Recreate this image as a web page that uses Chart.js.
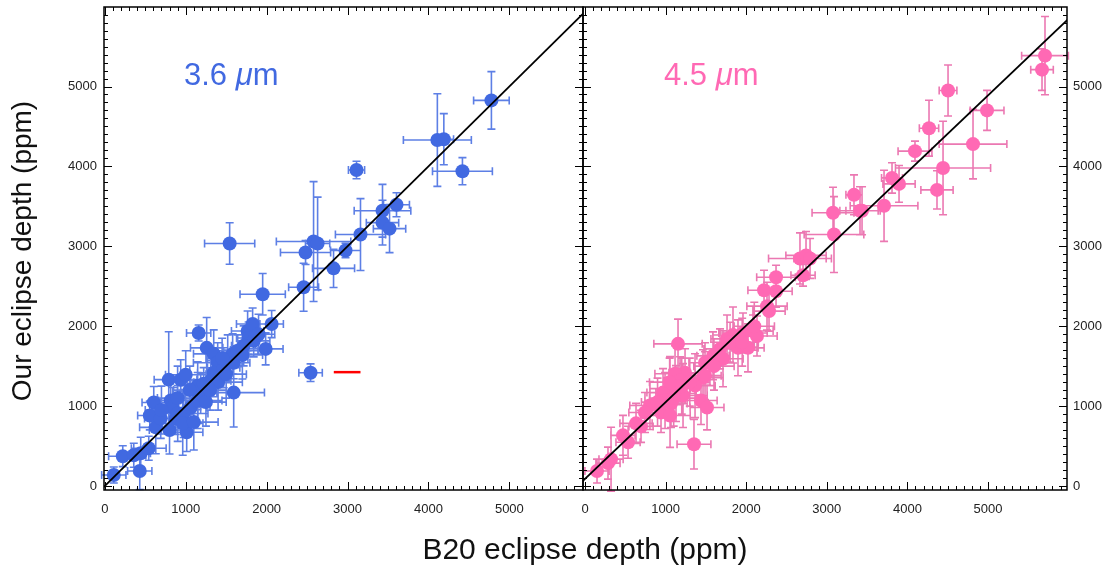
<!DOCTYPE html>
<html>
<head>
<meta charset="utf-8">
<script src="https://cdn.jsdelivr.net/npm/chart.js@4.4.0/dist/chart.umd.min.js"></script>
<style>
  body { margin: 0; background: #fff; font-family: "Liberation Sans", Arial, sans-serif; }
  #wrap { position: relative; width: 1114px; height: 566px; overflow: hidden; }
  canvas { position: absolute; left: 0; top: 0; }
  .lbl { position: absolute; white-space: nowrap; line-height: 26px; color: #111; }
</style>
</head>
<body>
<div id="wrap">
  <canvas id="chart36" width="1114" height="566"></canvas>
  <canvas id="chart45" width="1114" height="566"></canvas>
  <div class="lbl" style="left:184px;top:62px;font-size:31px;color:#4169E1">3.6 <i>μ</i>m</div>
  <div class="lbl" style="left:664px;top:62px;font-size:31px;color:#FF69B4">4.5 <i>μ</i>m</div>
  <div class="lbl" style="left:335px;top:536px;width:500px;text-align:center;font-size:30px">B20 eclipse depth (ppm)</div>
  <div class="lbl" style="left:-178px;top:238px;width:400px;text-align:center;font-size:28px;transform:rotate(-90deg)">Our eclipse depth (ppm)</div>
</div>
<script>
// tick values shared by both panels
var tickVals = [0, 1000, 2000, 3000, 4000, 5000];
var tickLabels = ['0', '1000', '2000', '3000', '4000', '5000'];

// 3.6 micron: B20 depth, our depth, errors (ppm)
var b20_36 = [4778, 4110, 4190, 4420, 3111, 3605, 3432, 3432, 3519, 3160, 2975, 2827, 2580, 2630, 2481, 2457, 1951, 1543, 2062, 1988, 2543, 1593,
  111, 222, 432, 358, 444, 543, 630, 605, 556, 691, 790, 938, 1000, 815, 840, 901, 877, 975, 1012, 963, 1062, 1148, 1185, 1148,
  1160, 1259, 1346, 1395, 1346, 1309, 1222, 1469, 1519, 1580, 1593, 1642, 1765, 1827, 1778, 1840, 1716, 1700, 1050, 900, 700, 1100,
  1250, 1400, 1500, 1900, 800, 1300, 1450];
var our_36 = [4826, 4330, 4340, 3940, 3955, 3520, 3445, 3296, 3221, 3147, 2948, 2724, 3060, 3035, 2923, 2488, 2400, 3035, 2027, 1716, 1418, 1169,
  137, 373, 187, 385, 410, 473, 734, 1045, 883, 846, 1331, 1331, 1393, 1070, 983, 908, 846, 908, 672, 784, 983, 1070, 1157, 1256,
  1915, 1729, 1654, 1542, 1418, 1318, 1281, 1480, 1592, 1654, 1542, 1692, 1940, 2027, 1853, 1816, 1754, 1640, 1200, 1100, 950, 800,
  1050, 1300, 1400, 1900, 700, 1200, 1600];
var b20err_36 = [220, 420, 120, 370, 100, 160, 350, 200, 200, 310, 185, 260, 460, 150, 310, 185, 280, 310, 145, 215, 145, 380,
  150, 175, 150, 150, 120, 215, 200, 145, 150, 200, 180, 200, 250, 150, 220, 250, 150, 300, 200, 250, 200, 300, 200, 250,
  150, 200, 250, 300, 200, 250, 200, 200, 250, 200, 200, 250, 200, 200, 150, 200, 150, 250, 200, 250, 200, 300,
  250, 300, 250, 200, 250, 200, 200];
var ourerr_36 = [360, 580, 320, 170, 110, 150, 330, 280, 300, 450, 90, 240, 750, 580, 150, 300, 260, 260, 170, 200, 110, 430,
  100, 130, 230, 150, 200, 150, 330, 200, 180, 250, 600, 250, 300, 300, 250, 350, 200, 300, 240, 400, 250, 350, 250, 300,
  100, 380, 300, 250, 300, 250, 200, 250, 300, 250, 200, 200, 250, 200, 200, 200, 250, 300, 300, 400, 300, 350,
  300, 350, 300, 250, 300, 250, 250];

// 4.5 micron
var b20_45 = [5707, 5670, 4504, 4988, 4268, 4814, 4094, 4442, 3809, 3896, 4367, 3710, 3437, 3337, 3077, 3089, 2667, 2742, 2792, 2705,
  2370, 2221, 2370, 2258, 2283, 2084, 1960, 1836, 1762, 1898, 2022, 2134, 1675, 1588, 1712, 1489, 1464, 1154, 1489, 1365,
  1241, 1117, 1179, 1055, 968, 1129, 1216, 993, 1067, 943, 1055, 1439, 1514, 1352, 806, 744, 633, 695, 471, 534,
  323, 285, 149, 1300, 1200, 1050, 900, 1600, 1800, 1950, 2100, 1100, 3412];
var our_45 = [5386, 5211, 4950, 4701, 4478, 4279, 4191, 3980, 3856, 3781, 3706, 3507, 3445, 3644, 3420, 3147, 2848, 2886, 2848, 2637,
  2612, 2450, 2438, 2251, 2189, 1940, 1915, 1890, 1841, 1729, 1729, 1878, 1716, 1629, 1592, 1542, 1356, 1779, 1381, 1256,
  1418, 1405, 1318, 1219, 1169, 1157, 1132, 1070, 1032, 920, 883, 1070, 983, 522, 1007, 920, 784, 746, 634, 547,
  336, 286, 187, 1300, 1250, 1300, 1050, 1500, 1800, 1800, 2000, 1100, 3445];
var b20err_45 = [290, 140, 110, 210, 120, 420, 210, 590, 130, 200, 200, 420, 200, 100, 260, 370, 390, 250, 200, 150,
  240, 200, 200, 250, 200, 250, 300, 250, 200, 250, 200, 250, 200, 200, 250, 200, 250, 300, 200, 250,
  200, 250, 200, 250, 200, 250, 300, 250, 200, 150, 250, 200, 210, 210, 250, 200, 200, 150, 150, 150,
  150, 150, 150, 250, 200, 250, 200, 250, 200, 200, 250, 300, 250];
var ourerr_45 = [490, 260, 320, 250, 350, 435, 125, 585, 190, 230, 240, 445, 300, 250, 320, 475, 320, 300, 250, 135,
  150, 250, 200, 300, 250, 200, 250, 350, 300, 350, 300, 250, 250, 300, 350, 250, 350, 310, 300, 400,
  300, 350, 300, 400, 300, 350, 400, 350, 300, 250, 400, 300, 280, 310, 300, 250, 250, 200, 250, 200,
  400, 200, 150, 300, 350, 300, 300, 300, 250, 300, 300, 350, 300];

// one-to-one reference lines
var diagX_36 = [-100, 6100];
var diagY_36 = [-100, 6100];
var diagX_45 = [-100, 6100];
var diagY_45 = [-5, 5945];

// short red segment in the 3.6 panel
var redX = [2830, 3160];
var redY = [1425, 1425];

function toPoints(xs, ys) {
    var pts = [];
    for (var i = 0; i < xs.length; i++) {
        pts.push({x: xs[i], y: ys[i]});
    }
    return pts;
}

var errorBars = {
    id: 'errorBars',
    beforeDatasetsDraw: function(chart) {
        var ctx = chart.ctx;
        var xs = chart.scales.x, ys = chart.scales.y;
        chart.data.datasets.forEach(function(ds) {
            if (!ds.xErr) return;
            ctx.save();
            ctx.strokeStyle = ds.errColor;
            ctx.lineWidth = 1.6;
            ctx.beginPath();
            ds.data.forEach(function(p, i) {
                var px = xs.getPixelForValue(p.x), py = ys.getPixelForValue(p.y);
                var x0 = xs.getPixelForValue(p.x - ds.xErr[i]), x1 = xs.getPixelForValue(p.x + ds.xErr[i]);
                var y0 = ys.getPixelForValue(p.y - ds.yErr[i]), y1 = ys.getPixelForValue(p.y + ds.yErr[i]);
                ctx.moveTo(x0, py); ctx.lineTo(x1, py);
                ctx.moveTo(px, y0); ctx.lineTo(px, y1);
                ctx.moveTo(x0, py - 4); ctx.lineTo(x0, py + 4);
                ctx.moveTo(x1, py - 4); ctx.lineTo(x1, py + 4);
                ctx.moveTo(px - 4, y0); ctx.lineTo(px + 4, y0);
                ctx.moveTo(px - 4, y1); ctx.lineTo(px + 4, y1);
            });
            ctx.stroke();
            ctx.restore();
        });
    }
};

// box + inward ticks on all four sides
var frameTicks = {
    id: 'frameTicks',
    afterDraw: function(chart) {
        var a = chart.chartArea, ctx = chart.ctx;
        var xs = chart.scales.x, ys = chart.scales.y;
        ctx.save();
        ctx.strokeStyle = '#000';
        ctx.lineWidth = 1;
        ctx.beginPath();
        for (var v = 0; v <= 6000; v += 100) {
            var len = v % 1000 === 0 ? 8 : 4;
            var px = Math.round(xs.getPixelForValue(v)) + 0.5;
            if (px > a.left + 1 && px < a.right - 1) {
                ctx.moveTo(px, a.bottom); ctx.lineTo(px, a.bottom - len);
                ctx.moveTo(px, a.top); ctx.lineTo(px, a.top + len);
            }
            var py = Math.round(ys.getPixelForValue(v)) + 0.5;
            if (py > a.top + 1 && py < a.bottom - 1) {
                ctx.moveTo(a.left, py); ctx.lineTo(a.left + len, py);
                ctx.moveTo(a.right, py); ctx.lineTo(a.right - len, py);
            }
        }
        ctx.stroke();
        ctx.lineWidth = 1.5;
        ctx.strokeRect(a.left, a.top, a.right - a.left, a.bottom - a.top);
        ctx.restore();
    }
};

function fixTicks(scale) {
    scale.ticks = tickVals.map(function(v) { return {value: v}; });
}

function makeAxis(min, max, pos, size, pad) {
    return {
        type: 'linear',
        position: pos,
        min: min,
        max: max,
        grid: {display: false, drawTicks: false},
        border: {display: false},
        afterBuildTicks: fixTicks,
        afterFit: function(s) {
            if (pos === 'bottom') s.height = size; else s.width = size;
            s.paddingTop = 0; s.paddingBottom = 0; s.paddingLeft = 0; s.paddingRight = 0;
        },
        ticks: {
            padding: pad,
            color: '#222',
            font: {family: '"Liberation Sans", Arial, sans-serif', size: 13},
            callback: function(v, i) { return tickLabels[i]; }
        }
    };
}

function makeChart(id, b20, our, b20err, ourerr, color, errColor, xMin, xMax, diagX, diagY, yPos, yWidth, yPad, padding, extra) {
    var datasets = [
        {
            type: 'line',
            data: toPoints(diagX, diagY),
            borderColor: '#000',
            borderWidth: 1.8,
            pointRadius: 0,
            order: 0
        }
    ];
    if (extra) datasets.push(extra);
    datasets.push({
        type: 'scatter',
        data: toPoints(b20, our),
        xErr: b20err,
        yErr: ourerr,
        errColor: errColor,
        backgroundColor: color,
        borderWidth: 0,
        pointRadius: 7,
        order: 1
    });
    return new Chart(document.getElementById(id), {
        type: 'scatter',
        data: {datasets: datasets},
        options: {
            responsive: false,
            animation: false,
            layout: {padding: padding},
            plugins: {legend: {display: false}, tooltip: {enabled: false}},
            scales: {
                x: makeAxis(xMin, xMax, 'bottom', 30, 12),
                y: makeAxis(-50, 5995, yPos, yWidth, yPad)
            }
        },
        plugins: [errorBars, frameTicks]
    });
}

var redLine = {
    type: 'line',
    data: toPoints(redX, redY),
    borderColor: '#ff0000',
    borderWidth: 2.5,
    pointRadius: 0,
    order: 0
};

var chart36 = makeChart('chart36', b20_36, our_36, b20err_36, ourerr_36,
    '#4169E1', 'rgba(65,105,225,0.85)', -10, 5910, diagX_36, diagY_36,
    'left', 50, 7, {left: 54, right: 531, top: 4, bottom: 46}, redLine);

var chart45 = makeChart('chart45', b20_45, our_45, b20err_45, ourerr_45,
    '#FF69B4', 'rgba(232,96,165,0.85)', -25, 5980, diagX_45, diagY_45,
    'right', 40, 6, {left: 583, right: 7, top: 4, bottom: 46}, null);
</script>
</body>
</html>
